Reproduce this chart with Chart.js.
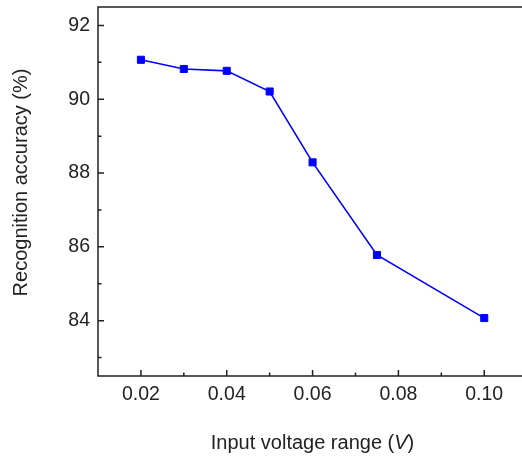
<!DOCTYPE html>
<html>
<head>
<meta charset="utf-8">
<script src="https://cdn.jsdelivr.net/npm/chart.js@4/dist/chart.umd.min.js"></script>
<style>
  html, body { margin: 0; padding: 0; background: #fff; overflow: hidden; }
</style>
</head>
<body>
<canvas id="accChart" width="522" height="458"></canvas>
<script>
// Rango de voltaje de entrada (V) y precisión de reconocimiento (%)
const voltageRange = [0.02, 0.03, 0.04, 0.05, 0.06, 0.075, 0.10];
const accuracy = [91.07, 90.82, 90.77, 90.21, 88.29, 85.78, 84.07];

// Marcas de los ejes
const xMajorTicks = [0.02, 0.04, 0.06, 0.08, 0.10];
const xMinorTicks = [0.03, 0.05, 0.07, 0.09];
const yMajorTicks = [84, 86, 88, 90, 92];
const yMinorTicks = [83, 85, 87, 89, 91];

const FONT = '"Liberation Sans", Arial, sans-serif';
const INK = '#222';

// Sin relleno extra de las etiquetas: el área del gráfico queda fija
const noPad = s => { s.paddingTop = 0; s.paddingBottom = 0; s.paddingLeft = 0; s.paddingRight = 0; };

// Ejes izquierdo/inferior, línea superior, marcas hacia dentro y títulos
const axisFrame = {
    id: 'axisFrame',
    afterDraw(chart) {
        const { ctx, width, chartArea: a, scales: { x, y } } = chart;
        ctx.save();
        ctx.strokeStyle = INK;
        ctx.lineWidth = 1.5;
        ctx.beginPath();
        ctx.moveTo(width, a.top);
        ctx.lineTo(a.left, a.top);
        ctx.lineTo(a.left, a.bottom);
        ctx.lineTo(width, a.bottom);
        ctx.stroke();

        ctx.beginPath();
        xMajorTicks.forEach(v => { const px = x.getPixelForValue(v); ctx.moveTo(px, a.bottom); ctx.lineTo(px, a.bottom - 6); });
        xMinorTicks.forEach(v => { const px = x.getPixelForValue(v); ctx.moveTo(px, a.bottom); ctx.lineTo(px, a.bottom - 3.5); });
        yMajorTicks.forEach(v => { const py = y.getPixelForValue(v); ctx.moveTo(a.left, py); ctx.lineTo(a.left + 6, py); });
        yMinorTicks.forEach(v => { const py = y.getPixelForValue(v); ctx.moveTo(a.left, py); ctx.lineTo(a.left + 3.5, py); });
        ctx.stroke();

        // Título eje Y
        ctx.fillStyle = INK;
        ctx.font = '20px ' + FONT;
        ctx.textAlign = 'center';
        ctx.textBaseline = 'middle';
        ctx.save();
        ctx.translate(21, 182.5);
        ctx.rotate(-Math.PI / 2);
        ctx.fillText('Recognition accuracy (%)', 0, 0);
        ctx.restore();

        // Título eje X con la V en cursiva
        const parts = [
            { t: 'Input voltage range (', f: '20px ' + FONT },
            { t: 'V', f: 'italic 20px ' + FONT },
            { t: ')', f: '20px ' + FONT }
        ];
        let total = 0;
        parts.forEach(p => { ctx.font = p.f; p.w = ctx.measureText(p.t).width; total += p.w; });
        let cx = 312.5 - total / 2;
        ctx.textAlign = 'left';
        parts.forEach(p => { ctx.font = p.f; ctx.fillText(p.t, cx, 443); cx += p.w; });
        ctx.restore();
    }
};

new Chart(document.getElementById('accChart'), {
    type: 'scatter',
    data: {
        datasets: [{
            data: voltageRange.map((v, i) => ({ x: v, y: accuracy[i] })),
            showLine: true,
            borderColor: '#0000ff',
            borderWidth: 1.6,
            pointStyle: 'rect',
            pointRadius: 5,
            pointBorderWidth: 1,
            pointBackgroundColor: '#0000ff',
            pointBorderColor: '#0000ff'
        }]
    },
    options: {
        responsive: false,
        animation: false,
        devicePixelRatio: 1,
        layout: { padding: { top: 7, right: 0, left: 0, bottom: 0 } },
        plugins: { legend: { display: false }, tooltip: { enabled: false } },
        scales: {
            x: {
                type: 'linear',
                min: 0.01,
                max: 0.1074,
                afterFit: s => { s.height = 82; noPad(s); },
                afterBuildTicks: s => { s.ticks = xMajorTicks.map(v => ({ value: v })); },
                grid: { display: false, drawTicks: false },
                border: { display: false },
                ticks: {
                    color: INK,
                    padding: 7,
                    font: { family: FONT, size: 19.5 },
                    callback: v => v.toFixed(2)
                }
            },
            y: {
                min: 82.5,
                max: 92.5,
                afterFit: s => { s.width = 98; noPad(s); },
                afterBuildTicks: s => { s.ticks = yMajorTicks.map(v => ({ value: v })); },
                grid: { display: false, drawTicks: false },
                border: { display: false },
                ticks: {
                    color: INK,
                    padding: 8,
                    font: { family: FONT, size: 19.5 },
                    callback: v => String(v)
                }
            }
        }
    },
    plugins: [axisFrame]
});
</script>
</body>
</html>
